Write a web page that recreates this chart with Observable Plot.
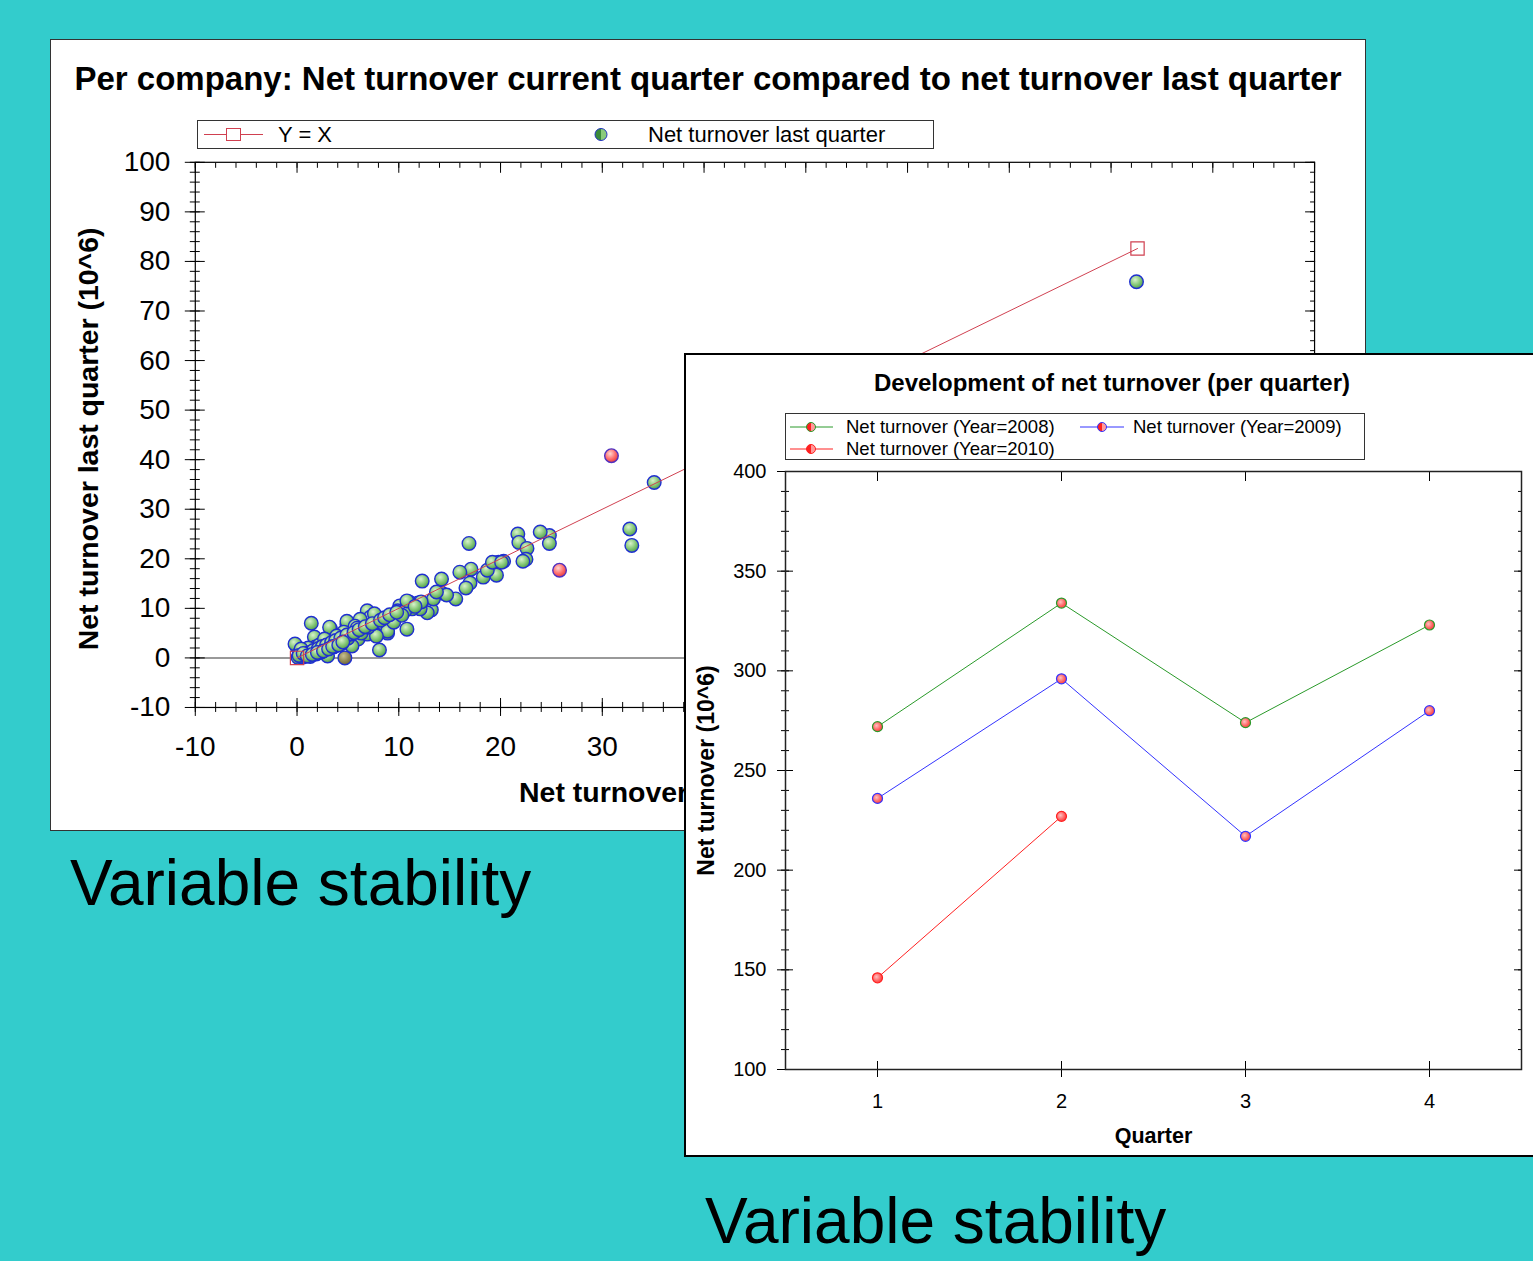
<!DOCTYPE html>
<html>
<head>
<meta charset="utf-8">
<script src="https://cdn.jsdelivr.net/npm/d3@7"></script>
<script src="https://cdn.jsdelivr.net/npm/@observablehq/plot@0.6"></script>
<style>
html, body { margin: 0; padding: 0; }
body { width: 1533px; height: 1261px; background: #33cccc; position: relative; overflow: hidden;
       font-family: "Liberation Sans", Arial, sans-serif; color: #000; }
.panel { position: absolute; background: #fff; box-sizing: border-box; }
#p1 { left: 50px; top: 39px; width: 1316px; height: 792px; border: 1px solid #333; z-index: 1; }
#p2 { left: 684px; top: 353px; width: 870px; height: 804px; border: 2px solid #000; z-index: 2; }
#p1 svg.chart { position: absolute; left: -1px; top: -1px; }
#p2 svg.chart { position: absolute; left: -2px; top: -2px; }
.ptitle { position: absolute; text-align: center; font-weight: bold; white-space: nowrap; }
.legend { position: absolute; box-sizing: border-box; background: #fff; }
.legend span { position: absolute; white-space: nowrap; }
.big { position: absolute; font-size: 64px; line-height: 64px; white-space: nowrap; color: #000; }
</style>
</head>
<body>
<div id="p1" class="panel">
  <div class="ptitle" style="left:0;width:1314px;top:20px;font-size:33px;line-height:38px;">Per company: Net turnover current quarter compared to net turnover last quarter</div>
  <div class="legend" style="left:146px;top:80px;width:737px;height:29px;border:1px solid #333;">
    <svg width="735" height="27" style="position:absolute;left:0;top:0">
      <defs>
        <linearGradient id="legDot" x1="0" x2="1" y1="0" y2="0">
          <stop offset="0%" stop-color="#3a8a3a"/><stop offset="50%" stop-color="#3a8a3a"/>
          <stop offset="50%" stop-color="#8acb7a"/><stop offset="100%" stop-color="#8acb7a"/>
        </linearGradient>
      </defs>
      <line x1="6" x2="65" y1="13.5" y2="13.5" stroke="#d04050" stroke-width="1"/>
      <rect x="28.5" y="7.5" width="14" height="12" fill="#fff" stroke="#d04050" stroke-width="1"/>
      <circle cx="403" cy="13.5" r="6" fill="url(#legDot)" stroke="#2030c0" stroke-width="1"/>
    </svg>
    <span style="left:80px;top:0;font-size:22px;line-height:27px;">Y = X</span>
    <span style="left:450px;top:0;font-size:22px;line-height:27px;">Net turnover last quarter</span>
  </div>
</div>

<div id="p2" class="panel">
  <div class="ptitle" style="left:0;width:852px;top:13px;font-size:24px;line-height:30px;">Development of net turnover (per quarter)</div>
  <div class="legend" style="left:99px;top:58px;width:580px;height:47px;border:1px solid #333;">
    <svg width="578" height="45" style="position:absolute;left:0;top:0">
      <defs>
        <linearGradient id="legRed" x1="0" x2="1" y1="0" y2="0">
          <stop offset="0%" stop-color="#ff2020"/><stop offset="50%" stop-color="#ff2020"/>
          <stop offset="50%" stop-color="#ff9a9a"/><stop offset="100%" stop-color="#ff9a9a"/>
        </linearGradient>
      </defs>
      <line x1="4" x2="47" y1="13" y2="13" stroke="#2a9a2a"/>
      <circle cx="25" cy="13" r="4.5" fill="url(#legRed)" stroke="#2a9a2a"/>
      <line x1="4" x2="47" y1="35" y2="35" stroke="#ff2020"/>
      <circle cx="25" cy="35" r="4.5" fill="url(#legRed)" stroke="#ff2020"/>
      <line x1="294" x2="338" y1="13" y2="13" stroke="#3333ff"/>
      <circle cx="316" cy="13" r="4.5" fill="url(#legRed)" stroke="#3333ff"/>
    </svg>
    <span style="left:60px;top:2px;font-size:18.5px;line-height:22px;">Net turnover (Year=2008)</span>
    <span style="left:347px;top:2px;font-size:18.5px;line-height:22px;">Net turnover (Year=2009)</span>
    <span style="left:60px;top:24px;font-size:18.5px;line-height:22px;">Net turnover (Year=2010)</span>
  </div>
</div>

<div class="big" style="left:70px;top:851px;">Variable stability</div>
<div class="big" style="left:705px;top:1189px;">Variable stability</div>

<script>
// ---------- Panel 1 data: per company, current quarter vs last quarter (10^6) ----------
const currentGreen = [35.1, 32.7, 32.9, 24.8, 24.8, 23.9, 21.7, 21.8, 22.6, 22.5, 22.2, 16.9, 20.3, 19.8, 19.3, 19.6,
  18.3, 18.7, 17.1, 16.0, 17.0, 16.6, 15.6, 14.2, 14.2, 14.7, 12.3, 13.2, 12.8, 13.4, 11.9, 12.1, 11.0, 10.8, 10.1,
  9.9, 9.3, 8.8, 8.4, 8.9, 8.1, 7.8, 6.9, 7.2, 6.6, 6.2, 5.5, 4.9, 4.8, 4.2, 3.3, 3.6, 3.0, 3.0, 2.2, 1.4, 1.7, 1.8,
  0.8, 0.0, 0.3, 82.5, 19.2, 20.1, 13.7, 12.2, 11.3, 10.6, -0.2, 3.2, 4.9, 5.7, 7.6, 8.9, 10.8, 4.7, 6.0, 6.9, 3.7,
  2.4, 0.8, 5.4, 7.8, 0.2, 0.5, 0.8, 1.0, 1.2, 1.5, 1.8, 2.0, 2.3, 2.6, 0.3, 0.6, 1.3, 1.9, 2.8, 3.3, 3.6, 4.0, 4.4,
  2.2, 1.1, 0.4, 5.0, 5.3, 4.6, 3.9, 2.7, 6.3, 5.9, 7.0, 9.5, 10.3, 11.6,
  0.1, 0.4, 0.7, 0.9, 1.1, 1.4, 1.6, 2.1, 2.5, 2.9, 3.4, 3.8, 4.3, 4.9, 5.6, 6.1, 6.7, 7.4, 8.2, 8.6, 9.1, 9.8,
  0.2, 0.6, 1.0, 1.5, 2.0, 2.6, 3.1, 3.5, 4.1, 4.5];
const lastGreen = [35.4, 26.0, 22.7, 24.7, 23.1, 25.4, 25.0, 23.3, 22.1, 19.9, 19.5, 23.1, 19.5, 19.3, 18.7, 16.7,
  16.3, 17.7, 17.9, 17.3, 15.1, 14.1, 11.9, 15.9, 13.1, 12.7, 15.5, 9.7, 9.1, 11.9, 11.1, 9.9, 11.3, 5.8, 10.5,
  9.5, 8.5, 7.6, 6.8, 5.0, 1.6, 4.6, 9.5, 8.2, 6.4, 7.8, 5.6, 6.8, 4.6, 3.8, 5.8, 4.6, 2.8, 0.4, 3.2, 7.0, 4.2, 2.2,
  1.6, 2.2, 0.8, 75.9, 19.3, 19.3, 13.3, 11.3, 9.9, 9.5, 2.8, 6.2, 7.4, 6.4, 8.9, 5.4, 11.5, 4.2, 3.8, 4.8, 2.4,
  1.2, 0.4, 2.4, 4.4, 0.3, 0.6, 1.0, 0.5, 1.4, 1.0, 1.6, 2.0, 1.5, 2.4, 1.2, 0.2, 0.3, 0.8, 1.9, 3.0, 2.2, 3.3, 2.9,
  2.6, 2.0, 1.8, 4.0, 4.8, 5.2, 4.4, 3.8, 5.0, 6.0, 6.2, 7.2, 8.6, 10.4,
  0.1, 0.3, 0.6, 0.8, 1.0, 1.2, 1.5, 1.9, 2.3, 2.6, 3.1, 3.5, 4.0, 4.6, 5.1, 5.7, 6.3, 6.9, 7.6, 8.1, 8.7, 9.2,
  0.5, 0.9, 0.4, 0.7, 1.1, 1.4, 1.8, 2.3, 2.6, 3.2];
const currentRed = [30.9, 25.8];
const lastRed = [40.8, 17.7];
const currentOlive = [4.7];
const lastOlive = [0.0];
const identityEnds = [0, 82.6];   // Y = X reference line end points
const zeroLine = [0];

// ---------- Panel 2 data: net turnover per quarter (10^6) ----------
const quarters = [1, 2, 3, 4];
const turnover2008 = [272, 334, 274, 323];
const turnover2009 = [236, 296, 217, 280];
const turnover2010 = [146, 227];

const FONT = "Liberation Sans, Arial, sans-serif";
const plain = d => String(d);   // hyphen minus, no decimals

function addDefs(svg, html) {
  d3.select(svg).insert("defs", ":first-child").html(html);
}

// ---------------- Panel 1 ----------------
const greenPts = currentGreen.map((x, i) => ({x, y: lastGreen[i]}));
const redPts = currentRed.map((x, i) => ({x, y: lastRed[i]}));
const olivePts = currentOlive.map((x, i) => ({x, y: lastOlive[i]}));
const idPts = identityEnds.map(v => ({x: v, y: v}));

const tickOnly = {fill: "none", label: null, stroke: "#000"};

const chart1 = Plot.plot({
  width: 1316, height: 792,
  marginLeft: 145, marginRight: 50, marginTop: 123, marginBottom: 123,
  style: {fontFamily: FONT, fontSize: "28px", color: "#000", background: "transparent", overflow: "visible"},
  x: {domain: [-10, 100]},
  y: {domain: [-10, 100]},
  marks: [
    Plot.ruleY(zeroLine, {stroke: "#777", strokeWidth: 1.5}),
    Plot.axisY({anchor: "left", interval: 10, tickSize: 20, inset: 10, ...tickOnly}),
    Plot.axisY({anchor: "left", interval: 2, tickSize: 10, inset: 5, ...tickOnly}),
    Plot.axisX({anchor: "bottom", interval: 10, tickSize: 18, inset: 9, ...tickOnly}),
    Plot.axisX({anchor: "bottom", interval: 2, tickSize: 10, inset: 5, ...tickOnly}),
    Plot.axisX({anchor: "top", interval: 10, tickSize: 10, inset: 10, ...tickOnly}),
    Plot.axisX({anchor: "top", interval: 2, tickSize: 5, inset: 5, ...tickOnly}),
    Plot.axisY({anchor: "right", interval: 10, tickSize: 10, inset: 10, ...tickOnly}),
    Plot.axisY({anchor: "right", interval: 2, tickSize: 5, inset: 5, ...tickOnly}),
    Plot.axisY({anchor: "left", interval: 10, tickSize: 10, tickPadding: 15, stroke: "none", label: null, fontSize: 28, tickFormat: plain}),
    Plot.axisX({anchor: "bottom", interval: 10, tickSize: 9, tickPadding: 20, stroke: "none", label: null, fontSize: 28, tickFormat: plain}),
    Plot.frame({stroke: "#000", strokeWidth: 1.2}),
    Plot.dot(greenPts, {x: "x", y: "y", r: 6.8, fill: "url(#gGreen)", stroke: "#1f2fd0", strokeWidth: 1.4}),
    Plot.dot(olivePts, {x: "x", y: "y", r: 6.8, fill: "url(#gOlive)", stroke: "#1f2fd0", strokeWidth: 1.4}),
    Plot.dot(redPts, {x: "x", y: "y", r: 6.8, fill: "url(#gRed)", stroke: "#5030c0", strokeWidth: 1.4}),
    Plot.line(idPts, {x: "x", y: "y", stroke: "#d04050", strokeWidth: 1}),
    Plot.dot(idPts, {x: "x", y: "y", symbol: "square", r: 7.5, stroke: "#d04050", fill: "none", strokeWidth: 1.2}),
    Plot.text(["Net turnover last quarter (10^6)"], {frameAnchor: "left", rotate: -90, textAnchor: "middle", lineAnchor: "middle", dx: -107, dy: 4, fontSize: 28.5, fontWeight: "bold"}),
    Plot.text(["Net turnover current quarter (10^6)"], {frameAnchor: "bottom", textAnchor: "middle", lineAnchor: "middle", dy: 86, fontSize: 28.5, fontWeight: "bold"})
  ]
});
chart1.classList.add("chart");
addDefs(chart1, `
  <radialGradient id="gGreen" cx="40%" cy="35%" r="70%">
    <stop offset="0%" stop-color="#d8f2cc"/><stop offset="55%" stop-color="#86c878"/><stop offset="100%" stop-color="#4a9848"/>
  </radialGradient>
  <radialGradient id="gRed" cx="40%" cy="35%" r="70%">
    <stop offset="0%" stop-color="#ffd6d0"/><stop offset="55%" stop-color="#ff7070"/><stop offset="100%" stop-color="#e03434"/>
  </radialGradient>
  <radialGradient id="gOlive" cx="40%" cy="35%" r="70%">
    <stop offset="0%" stop-color="#c8c090"/><stop offset="60%" stop-color="#8c8450"/><stop offset="100%" stop-color="#6a6438"/>
  </radialGradient>`);
document.getElementById("p1").prepend(chart1);

// ---------------- Panel 2 ----------------
const s2008 = turnover2008.map((v, i) => ({q: quarters[i], v}));
const s2009 = turnover2009.map((v, i) => ({q: quarters[i], v}));
const s2010 = turnover2010.map((v, i) => ({q: quarters[i], v}));
const seriesColors = ["#2a9a2a", "#3333ff", "#ff2020"];

function seriesMarks(data, color) {
  return [
    Plot.line(data, {x: "q", y: "v", stroke: color, strokeWidth: 1}),
    Plot.dot(data, {x: "q", y: "v", r: 5, fill: "url(#p2Dot)", stroke: color, strokeWidth: 1.2})
  ];
}

const chart2 = Plot.plot({
  width: 852, height: 804,
  marginLeft: 101, marginRight: 15, marginTop: 118, marginBottom: 88,
  style: {fontFamily: FONT, fontSize: "20px", color: "#000", background: "transparent", overflow: "visible"},
  x: {domain: [0.5, 4.5]},
  y: {domain: [100, 400]},
  marks: [
    Plot.axisY({anchor: "left", interval: 50, tickSize: 16, inset: 8, ...tickOnly}),
    Plot.axisY({anchor: "left", interval: 10, tickSize: 8, inset: 4, ...tickOnly}),
    Plot.axisY({anchor: "right", interval: 50, tickSize: 8, inset: 8, ...tickOnly}),
    Plot.axisY({anchor: "right", interval: 10, tickSize: 4, inset: 4, ...tickOnly}),
    Plot.axisX({anchor: "bottom", ticks: quarters, tickSize: 16, inset: 8, ...tickOnly}),
    Plot.axisX({anchor: "top", ticks: quarters, tickSize: 9, inset: 9, ...tickOnly}),
    Plot.axisY({anchor: "left", interval: 50, tickSize: 8, tickPadding: 11, stroke: "none", label: null, fontSize: 20, tickFormat: plain}),
    Plot.axisX({anchor: "bottom", ticks: quarters, tickSize: 8, tickPadding: 16, stroke: "none", label: null, fontSize: 20, tickFormat: plain}),
    Plot.frame({stroke: "#222", strokeWidth: 1.5}),
    ...seriesMarks(s2008, seriesColors[0]),
    ...seriesMarks(s2009, seriesColors[1]),
    ...seriesMarks(s2010, seriesColors[2]),
    Plot.text(["Net turnover (10^6)"], {frameAnchor: "left", rotate: -90, textAnchor: "middle", lineAnchor: "middle", dx: -79, fontSize: 23, fontWeight: "bold"}),
    Plot.text(["Quarter"], {frameAnchor: "bottom", textAnchor: "middle", lineAnchor: "middle", dy: 67, fontSize: 21.5, fontWeight: "bold"})
  ]
});
chart2.classList.add("chart");
addDefs(chart2, `
  <radialGradient id="p2Dot" cx="40%" cy="40%" r="70%">
    <stop offset="0%" stop-color="#ffc0c0"/><stop offset="60%" stop-color="#ff6060"/><stop offset="100%" stop-color="#ff3030"/>
  </radialGradient>`);
document.getElementById("p2").prepend(chart2);
</script>
</body>
</html>
